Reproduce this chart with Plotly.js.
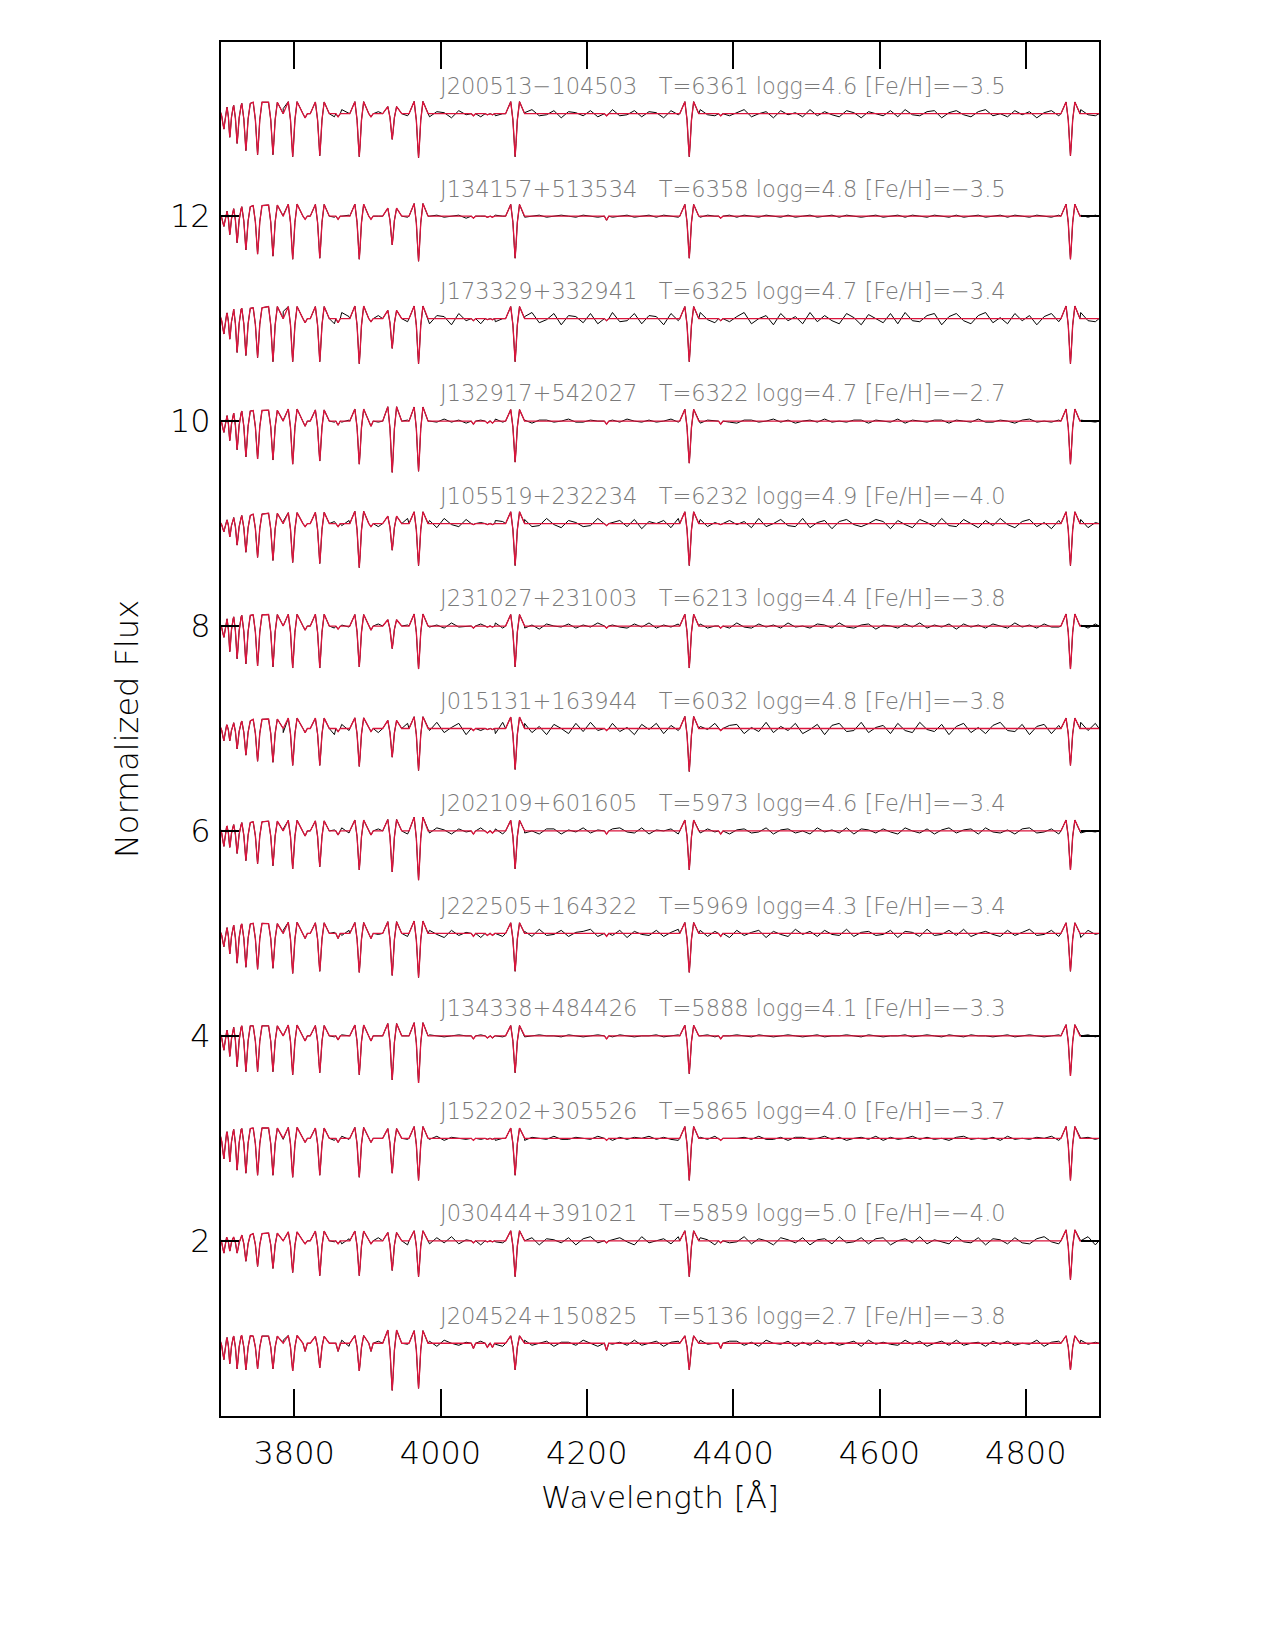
<!DOCTYPE html>
<html>
<head>
<meta charset="utf-8">
<script src="https://cdn.plot.ly/plotly-3.0.1.min.js"></script>
<style>html,body{margin:0;padding:0;background:#fff;}</style>
</head>
<body>
<div id="chart" style="width:1275px;height:1650px;"></div>
<script>
// ---------------- data ----------------
const starNames = ["J200513\u2212104503","J134157+513534","J173329+332941","J132917+542027","J105519+232234","J231027+231003","J015131+163944","J202109+601605","J222505+164322","J134338+484426","J152202+305526","J030444+391021","J204524+150825"];
const teff = [6361,6358,6325,6322,6232,6213,6032,5973,5969,5888,5865,5859,5136];
const logg = ["4.6","4.8","4.7","4.7","4.9","4.4","4.8","4.6","4.3","4.1","4.0","5.0","2.7"];
const feh  = ["\u22123.5","\u22123.5","\u22123.4","\u22122.7","\u22124.0","\u22123.8","\u22123.8","\u22123.4","\u22123.4","\u22123.3","\u22123.7","\u22124.0","\u22123.8"];
const offsets = [13,12,11,10,9,8,7,6,5,4,3,2,1];

// Balmer lines (+ Ca II K) centres [A]
const lineWl = [3704,3712,3722,3734,3750,3771,3798,3835,3889,3934,3970,4102,4340,4861];
// depth of each line below the local continuum, one row per star (top to bottom)
const depth_J200513 = [0.15,0.23,0.29,0.36,0.40,0.40,0.42,0.41,0.42,0.25,0.43,0.42,0.42,0.41];
const depth_J134157 = [0.10,0.18,0.26,0.33,0.37,0.39,0.42,0.41,0.42,0.28,0.44,0.41,0.41,0.42];
const depth_J173329 = [0.15,0.20,0.33,0.36,0.38,0.42,0.42,0.42,0.44,0.29,0.44,0.42,0.42,0.44];
const depth_J132917 = [0.11,0.19,0.28,0.35,0.37,0.38,0.42,0.39,0.42,0.50,0.49,0.40,0.41,0.42];
const depth_J105519 = [0.08,0.13,0.21,0.28,0.33,0.36,0.38,0.39,0.43,0.26,0.41,0.41,0.41,0.41];
const depth_J231027 = [0.11,0.25,0.32,0.37,0.39,0.40,0.41,0.41,0.40,0.22,0.42,0.40,0.41,0.42];
const depth_J015131 = [0.12,0.12,0.20,0.26,0.32,0.33,0.36,0.36,0.37,0.28,0.41,0.40,0.42,0.36];
const depth_J202109 = [0.15,0.16,0.22,0.29,0.32,0.34,0.37,0.35,0.38,0.40,0.48,0.37,0.38,0.38];
const depth_J222505 = [0.13,0.20,0.29,0.33,0.35,0.34,0.39,0.37,0.38,0.41,0.43,0.37,0.38,0.37];
const depth_J134338 = [0.14,0.20,0.30,0.35,0.35,0.35,0.38,0.36,0.38,0.43,0.46,0.36,0.37,0.39];
const depth_J152202 = [0.20,0.23,0.31,0.34,0.36,0.36,0.38,0.36,0.38,0.34,0.41,0.36,0.41,0.41];
const depth_J030444 = [0.12,0.10,0.12,0.20,0.25,0.27,0.31,0.34,0.34,0.29,0.35,0.35,0.35,0.38];
const depth_J204524 = [0.16,0.20,0.25,0.26,0.25,0.25,0.27,0.24,0.27,0.46,0.44,0.26,0.26,0.26];
const lineDepth = [depth_J200513,depth_J134157,depth_J173329,depth_J132917,depth_J105519,depth_J231027,depth_J015131,depth_J202109,depth_J222505,depth_J134338,depth_J152202,depth_J030444,depth_J204524];

// normalised line profile as seen in the figure (shoulders either side of each dip)
const profDx  = [-13,-6,-3,-1.2,0,1.2,3,6,13];
const profVal = [0,0.28,-0.15,-0.7,-1,-0.7,-0.15,0.28,0];

// weak metal lines
const metalWl = [3815,3860,3905,4045,4064,4071,4227,4383];
const metal_J200513 = [0.04,0.03,0.03,0.02,0.01,0.01,0.02,0.02];
const metal_J134157 = [0.03,0.03,0.03,0.02,0.01,0.01,0.04,0.02];
const metal_J173329 = [0.04,0.04,0.03,0.02,0.01,0.01,0.02,0.02];
const metal_J132917 = [0.05,0.04,0.05,0.03,0.02,0.02,0.03,0.03];
const metal_J105519 = [0.03,0.03,0.03,0.01,0.01,0.01,0.02,0.01];
const metal_J231027 = [0.04,0.03,0.04,0.02,0.01,0.01,0.02,0.02];
const metal_J015131 = [0.04,0.03,0.03,0.02,0.01,0.01,0.02,0.02];
const metal_J202109 = [0.05,0.04,0.04,0.03,0.02,0.02,0.03,0.03];
const metal_J222505 = [0.05,0.05,0.05,0.03,0.02,0.02,0.03,0.03];
const metal_J134338 = [0.05,0.04,0.05,0.03,0.02,0.02,0.03,0.03];
const metal_J152202 = [0.04,0.04,0.04,0.02,0.01,0.01,0.02,0.02];
const metal_J030444 = [0.03,0.03,0.03,0.02,0.01,0.01,0.02,0.02];
const metal_J204524 = [0.08,0.08,0.08,0.05,0.04,0.04,0.07,0.05];
const metalDepth = [metal_J200513,metal_J134157,metal_J173329,metal_J132917,metal_J105519,metal_J231027,metal_J015131,metal_J202109,metal_J222505,metal_J134338,metal_J152202,metal_J030444,metal_J204524];

// observed-minus-model residuals (units of 0.01) on a 10 A grid starting at 3705 A
const residStart = 3705, residStep = 10;
const resid_J200513 = [2,-3,4,-1,-4,3,1,-2,5,-3,0,3,-4,2,-1,-3,4,1,-2,3,-4,2,1,-3,3,-2,-1,4,-3,2,1,-4,3,-1,2,-3,4,-2,0,3,-3,1,4,-2,-1,3,-4,2,1,-2,3,-3,0,4,-2,-1,3,-3,2,1,-4,3,-1,2,-3,4,-1,-2,3,-2,1,4,-3,0,2,-4,3,-1,1,-3,4,-2,2,-1,-3,3,1,-4,2,0,-2,3,-3,4,-1,-2,2,3,-4,1,3,-1,-3,2,4,-2,0,-3,3,-1,2,-4,1,3,-2,2,-3,4,-1,-2];
const resid_J134157 = [1,-1,0,1,-1,1,0,-1,1,0,-1,1,0,-1,1,-1,0,1,-1,0,1,0,-1,1,0,-1,1,-1,0,1,-1,0,1,-2,1,0,-1,1,0,-1,1,-1,0,1,-1,0,1,0,-1,1,0,-1,1,-1,0,1,-1,0,1,-1,1,0,-1,0,1,-1,1,0,-1,1,-1,1,0,-1,1,0,-1,1,-1,0,1,-1,0,1,-1,1,0,-1,0,1,-1,0,1,-1,1,0,-1,1,0,-1,1,-1,0,1,-1,0,1,-1,1,0,-1,1,0,-1,1,-1,0,1,-1,1];
const resid_J173329 = [4,-5,6,-2,-6,5,1,-4,7,-3,-1,5,-6,3,-2,-5,6,2,-4,5,-6,3,2,-5,4,-3,-1,6,-5,3,2,-6,5,-2,3,-5,6,-3,0,5,-5,2,6,-4,-1,5,-6,3,2,-4,5,-5,1,6,-3,-2,5,-5,3,2,-6,5,-2,3,-5,6,-1,-4,5,-3,2,6,-5,0,3,-6,5,-2,2,-5,6,-3,3,-2,-5,5,1,-6,4,0,-4,5,-5,6,-2,-3,3,5,-6,2,5,-2,-5,3,6,-4,1,-5,5,-2,3,-6,2,5,-3,4,-5,6,-2,-3];
const resid_J132917 = [1,-2,1,0,-1,2,-1,0,1,-2,1,1,-1,0,2,-1,-1,1,0,-2,2,-1,0,1,-1,1,-2,1,0,-1,2,-1,1,-2,0,1,-1,2,-1,0,-1,1,-2,1,1,-1,0,2,-1,-1,1,0,-2,1,-1,2,0,-1,1,-1,0,2,-1,-1,1,-2,1,0,1,-1,-2,1,1,-1,0,2,-1,1,-2,0,1,-1,2,-1,0,-1,1,1,-2,1,0,-1,2,-2,1,0,-1,1,1,-2,1,0,-1,2,-1,-1,1,0,-2,1,2,-1,0,-1,1,1,-2,1,0,-1];
const resid_J105519 = [-3,4,-2,5,-4,1,3,-5,2,-1,4,-3,0,5,-4,2,-2,3,-5,4,1,-3,4,-1,-4,5,-2,0,3,-4,5,-1,-3,4,-2,1,-5,3,2,-4,0,4,-3,-2,5,-1,-4,3,1,-3,-2,5,-4,1,3,-3,4,-5,2,0,3,-4,5,-2,-1,4,-3,1,-5,3,-1,2,-4,5,-3,0,4,-2,-3,5,-4,1,3,-5,2,4,-1,-3,0,4,2,-5,3,-1,-4,4,1,-3,5,-2,-3,4,0,-4,3,-2,5,-1,-4,2,4,-3,1,-5,3,-1,2,4,-4,1];
const resid_J231027 = [2,-1,-2,3,-1,1,-3,2,0,-2,1,2,-2,-1,3,-2,1,-1,2,-3,0,2,-1,-2,2,1,-3,2,-1,1,-2,3,-1,0,-2,2,-1,3,-2,-1,2,-2,1,-3,2,0,-1,2,-2,1,-1,3,-2,1,-1,-2,2,-1,3,-2,1,-1,2,-3,1,2,-2,0,1,-2,3,-1,-2,2,-1,1,-2,3,-1,0,-2,2,1,-2,3,-1,-2,1,2,-3,1,0,-2,2,-1,3,-2,1,-1,2,-3,2,-1,1,-2,2,0,-2,3,-1,1,-2,2,-1,-1,3,-2,1,-2,2];
const resid_J015131 = [-5,6,-2,4,-6,3,-1,5,-4,2,6,-5,1,-3,5,-6,4,-2,3,-5,2,-4,6,-3,-1,5,-5,3,-2,6,-4,1,5,-6,3,-2,4,-5,6,-1,-3,5,-4,2,-6,4,0,-5,5,-3,6,-2,-4,5,-3,1,-6,4,-1,5,-5,3,-2,6,-4,2,-1,5,-6,3,4,-5,1,-3,6,-4,2,-2,5,-5,-1,4,-6,3,5,-3,-2,6,-4,1,3,-5,5,-2,-4,6,-1,-3,4,-6,2,5,-4,1,-5,3,6,-2,-3,4,-6,2,4,-5,3,-1,-4,6,-2,5];
const resid_J202109 = [2,-3,1,3,-2,-1,3,-3,2,0,-2,3,-1,2,-3,1,3,-2,-1,2,-3,2,1,-2,3,-3,0,2,-2,3,1,-3,2,-1,-2,3,-1,2,-3,1,3,-2,0,-3,2,2,-3,1,-1,3,-2,1,-3,2,3,-1,-2,3,-3,1,0,2,-3,3,-1,-2,2,-1,3,-3,1,2,-2,-1,3,-3,1,2,-2,0,-3,3,-1,1,-2,3,-3,2,1,-2,2,-1,-3,3,0,-2,2,-3,1,3,-2,1,2,-3,3,-1,-2,1,-3,2,3,-2,-1,2,-3,1,3,-2,0,-1];
const resid_J222505 = [-3,2,4,-2,-1,3,-4,1,3,-2,2,-3,0,4,-3,1,-2,3,-4,2,3,-1,-3,2,4,-3,1,-2,3,-1,-4,3,-2,1,3,-4,2,0,-3,4,-1,2,-3,4,-2,-1,3,-3,1,2,4,-3,1,-2,3,-4,2,-1,-2,3,-3,1,4,-2,-1,3,-3,2,0,-4,3,-2,1,3,-4,2,-1,-3,4,-1,2,-3,3,-1,-2,4,-3,1,2,-2,-1,3,-4,2,1,-3,4,-2,-1,3,-2,4,-3,0,2,-1,-3,3,-2,1,4,-2,-1,3,-3,2,1,-4,3,-1];
const resid_J134338 = [0,1,0,-1,0,0,1,-1,0,1,0,-1,0,1,0,-1,1,0,0,-1,1,0,-1,0,1,0,0,-1,1,0,-1,0,1,0,-1,1,0,0,-1,0,1,-1,0,1,0,0,-1,1,0,-1,0,1,0,-1,1,0,-1,0,0,1,-1,0,1,0,-1,0,1,-1,0,0,1,0,-1,1,0,-1,0,1,0,-1,0,1,-1,0,0,1,0,-1,1,0,-1,0,0,1,-1,0,1,0,-1,1,0,-1,1,0,0,-1,0,1,-1,0,1,0,-1,0,1,-1,0,0,1,-1];
const resid_J152202 = [-1,2,-1,0,1,-2,1,1,-1,0,2,-1,-1,1,0,-2,2,-1,0,1,-1,0,2,-2,1,-1,0,1,-1,2,-2,1,0,-1,2,-1,1,-2,0,1,1,-2,1,0,-1,2,-1,-1,1,0,-1,2,0,-2,1,-1,1,0,2,-1,1,-1,-2,1,0,1,-1,2,-2,0,0,1,-1,2,-1,-1,1,-2,1,1,-1,0,2,-1,1,-2,0,1,-1,2,-2,1,-1,0,2,-1,1,-1,0,-2,1,2,-1,0,-1,1,-2,2,-1,0,-1,1,0,2,-2,1,-1,0,1,-1];
const resid_J030444 = [3,-2,-4,3,1,-3,4,-2,0,3,-4,2,1,-3,4,-1,-3,2,3,-4,1,3,-2,-1,4,-4,2,0,-3,3,-2,4,-3,1,2,-4,3,-1,-2,4,-3,0,3,-4,2,1,-2,3,-4,2,4,-2,-3,1,3,-1,-4,4,-2,0,2,-3,4,-1,-3,3,1,-4,2,-2,-1,4,-3,2,0,-4,3,1,-2,3,-4,1,2,-3,4,-2,-1,3,-3,2,3,-4,0,2,-2,4,-3,1,-1,-3,4,-1,-2,3,-4,2,1,-3,3,-2,-3,2,4,-1,-3,3,-2,0,4,-4];
const resid_J204524 = [1,-2,3,-3,0,2,-1,-2,3,-1,2,-3,1,2,-2,0,3,-3,1,-1,-2,2,0,-3,3,-1,1,-2,2,-3,3,0,-2,1,-3,2,2,-1,-3,1,-1,3,-2,0,2,-3,1,1,-2,3,0,-3,2,-1,1,-2,3,-2,0,2,-3,1,2,-2,-1,3,-1,0,-3,2,2,-2,1,-3,3,0,-1,2,-3,1,-2,3,-1,1,-2,0,2,-3,3,-1,1,-1,-2,3,-1,2,-3,0,2,-2,3,-2,0,1,-3,2,-1,2,-2,0,-1,3,-3,1,2,-1,-2,3,-1,1];
const resid = [resid_J200513,resid_J134157,resid_J173329,resid_J132917,resid_J105519,resid_J231027,resid_J015131,resid_J202109,resid_J222505,resid_J134338,resid_J152202,resid_J030444,resid_J204524];

const xTicks = [3800,4000,4200,4400,4600,4800];
const yTicks = [2,4,6,8,10,12];
const xRange = [3700,4900];

// ---------------- build traces ----------------
function modelPoints(i){
  const pts = [[xRange[0],0],[xRange[1],0]];
  lineWl.forEach((wl,j)=>{
    const d = lineDepth[i][j];
    const gapL = j>0 ? wl-lineWl[j-1] : 999;
    const gapR = j<lineWl.length-1 ? lineWl[j+1]-wl : 999;
    profDx.forEach((dx,k)=>{
      const gap = dx<0 ? gapL : gapR;
      if (Math.abs(dx)>=13 && gap<26) return;
      const s = Math.min(1, gap/13);
      pts.push([wl+dx*s, profVal[k]*d]);
    });
  });
  metalWl.forEach((wl,j)=>{
    const d = metalDepth[i][j];
    pts.push([wl-3,0],[wl,-d],[wl+3,0]);
  });
  pts.sort((a,b)=>a[0]-b[0]);
  return pts;
}
function obsPoints(i){
  const pts = modelPoints(i).slice();
  resid[i].forEach((r,k)=>{
    const wl = residStart + k*residStep;
    if (lineWl.some(l=>Math.abs(l-wl)<13)) return;
    if (metalWl.some(l=>Math.abs(l-wl)<4)) return;
    if (wl<=xRange[0] || wl>=xRange[1]) return;
    pts.push([wl, r/100]);
  });
  pts.sort((a,b)=>a[0]-b[0]);
  return pts;
}

const traces = [];
offsets.forEach((off,i)=>{
  const p = obsPoints(i);
  traces.push({type:'scatter',mode:'lines',x:p.map(v=>v[0]),y:p.map(v=>v[1]+off),
    line:{color:'black',width:1},hoverinfo:'skip'});
});
offsets.forEach((off,i)=>{
  const p = modelPoints(i);
  traces.push({type:'scatter',mode:'lines',x:p.map(v=>v[0]),y:p.map(v=>v[1]+off),
    line:{color:'rgb(220,20,60)',width:1.3},hoverinfo:'skip'});
});

const FONT = 'DejaVu Sans, sans-serif';
const NB = '\u00a0';
const annotations = offsets.map((off,i)=>({
  x:3996, y:off+0.27, xref:'x', yref:'y', xanchor:'left', yanchor:'middle', showarrow:false,
  text: starNames[i]+NB+NB+NB+'T='+teff[i]+' logg='+logg[i]+' [Fe/H]='+feh[i],
  font:{family:FONT,size:22.5,color:'#7a7a7a',weight:300}
}));

const layout = {
  width:1275, height:1650,
  margin:{l:221,r:176,t:42,b:234},
  paper_bgcolor:'white', plot_bgcolor:'white',
  showlegend:false,
  font:{family:FONT,color:'black'},
  xaxis:{range:xRange, tickmode:'array', tickvals:xTicks, ticks:'inside', ticklen:27, tickwidth:2,
    tickcolor:'black', mirror:'ticks', showline:true, linecolor:'black', linewidth:2,
    showgrid:false, zeroline:false, ticklabelstandoff:8,
    tickfont:{family:FONT,size:32,color:'black',weight:300},
    title:{text:'Wavelength [Å]', font:{family:FONT,size:31,color:'black',weight:300}, standoff:15}},
  yaxis:{range:[0.29,13.7], tickmode:'array', tickvals:yTicks, ticks:'inside', ticklen:18, tickwidth:2,
    tickcolor:'black', mirror:'ticks', showline:true, linecolor:'black', linewidth:2,
    showgrid:false, zeroline:false, ticklabelstandoff:2,
    tickfont:{family:FONT,size:32,color:'black',weight:300},
    title:{text:'Normalized Flux', font:{family:FONT,size:32,color:'black',weight:300}, standoff:22}},
  annotations: annotations
};

Plotly.newPlot('chart', traces, layout, {staticPlot:true, displayModeBar:false});
</script>
</body>
</html>
